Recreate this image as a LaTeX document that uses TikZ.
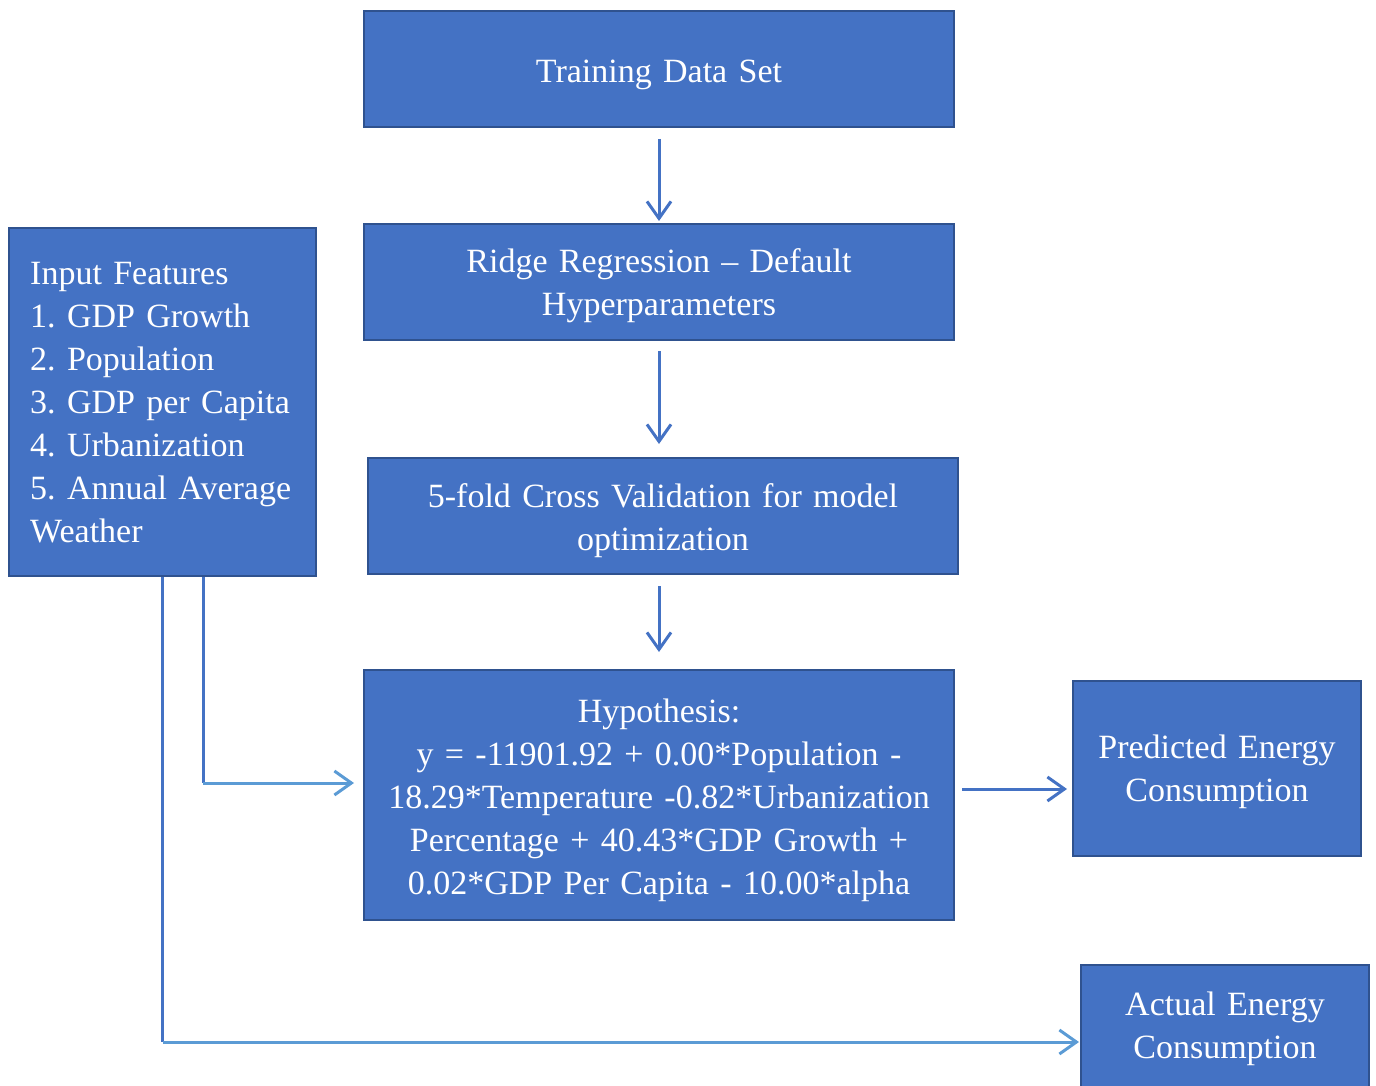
\documentclass[tikz,border=0pt]{standalone}
\usepackage{fontspec}
\setmainfont{Liberation Serif}
\usetikzlibrary{arrows.meta}
\definecolor{boxfill}{HTML}{4472C4}
\definecolor{boxline}{HTML}{2F528F}
\definecolor{arrowA}{HTML}{4472C4}
\definecolor{arrowB}{HTML}{5B9BD5}
\begin{document}
\begin{tikzpicture}[x=1pt,y=-1pt,
  blk/.style={draw=boxline, line width=2pt, fill=boxfill, inner sep=0pt},
  txt/.style={text=white, align=center, inner sep=0pt, anchor=north, text height=0pt,
    font=\fontsize{34}{43}\selectfont\frenchspacing},
  conn/.style={line width=3pt, -{Straight Barb[length=17pt,width=24pt]}}]
\useasboundingbox (0,0) rectangle (1376,1086);
\clip (0,0) rectangle (1376,1086);

% boxes
\node[blk, minimum width=590pt, minimum height=116pt] (tds) at (659,69) {};
\node[blk, minimum width=590pt, minimum height=116pt] (ridge) at (659,282) {};
\node[blk, minimum width=590pt, minimum height=116pt] (cv) at (663,516) {};
\node[blk, minimum width=590pt, minimum height=250pt] (hyp) at (659,795) {};
\node[blk, minimum width=288pt, minimum height=175pt] (pred) at (1217,768.5) {};
\node[blk, minimum width=288pt, minimum height=140pt] (act) at (1225,1035) {};
\node[blk, minimum width=307pt, minimum height=348pt] (in) at (162.5,402) {};

% texts (first baseline at the given point)
\node[txt, text width=590pt] (tdsT) at (659,82) {Training Data Set};
\node[txt, text width=590pt] (ridgeT) at (659,272) {Ridge Regression -- Default\\Hyperparameters};
\node[txt, text width=590pt] (cvT) at (663,507) {5-fold Cross Validation for model\\optimization};
\node[txt, text width=590pt] (hypT) at (659,722) {Hypothesis:\\y = -11901.92 + 0.00*Population -\\18.29*Temperature -0.82*Urbanization\\Percentage + 40.43*GDP Growth +\\0.02*GDP Per Capita - 10.00*alpha};
\node[txt, text width=288pt] (predT) at (1217,758) {Predicted Energy\\Consumption};
\node[txt, text width=288pt] (actT) at (1225,1015) {Actual Energy\\Consumption};
\node[txt, text width=285pt, align=left, anchor=north west] (inT) at (30,284) {Input Features\\1. GDP Growth\\2. Population\\3. GDP per Capita\\4. Urbanization\\5. Annual Average\\Weather};

% connectors
\draw[conn, draw=arrowA, shorten <=11pt, shorten >=2pt] (tds.south) -- (ridge.north);
\draw[conn, draw=arrowA, shorten <=10pt, shorten >=13pt] (ridge.south) -- (ridge.south |- cv.north);
\draw[conn, draw=arrowA, shorten <=11pt, shorten >=17pt] (ridge.south |- cv.south) -- (tds.south |- hyp.north);

\coordinate (h1) at ([xshift=7pt,yshift=6pt]hyp.east);
\draw[conn, draw=arrowA, shorten >=5pt] (h1) -- (h1 -| pred.west);

\coordinate (c1) at ([xshift=40.5pt]in.south |- 0,783);
\draw[line width=3pt, draw=arrowA] ([xshift=40.5pt]in.south) -- (c1);
\draw[conn, draw=arrowB, shorten >=9pt] (c1) -- (c1 -| hyp.west);

\coordinate (c2) at (in.south |- 0,1042);
\draw[line width=3pt, draw=arrowA] (in.south) -- (c2);
\draw[conn, draw=arrowB, shorten >=1pt] (c2) -- (c2 -| act.west);
\end{tikzpicture}
\end{document}
